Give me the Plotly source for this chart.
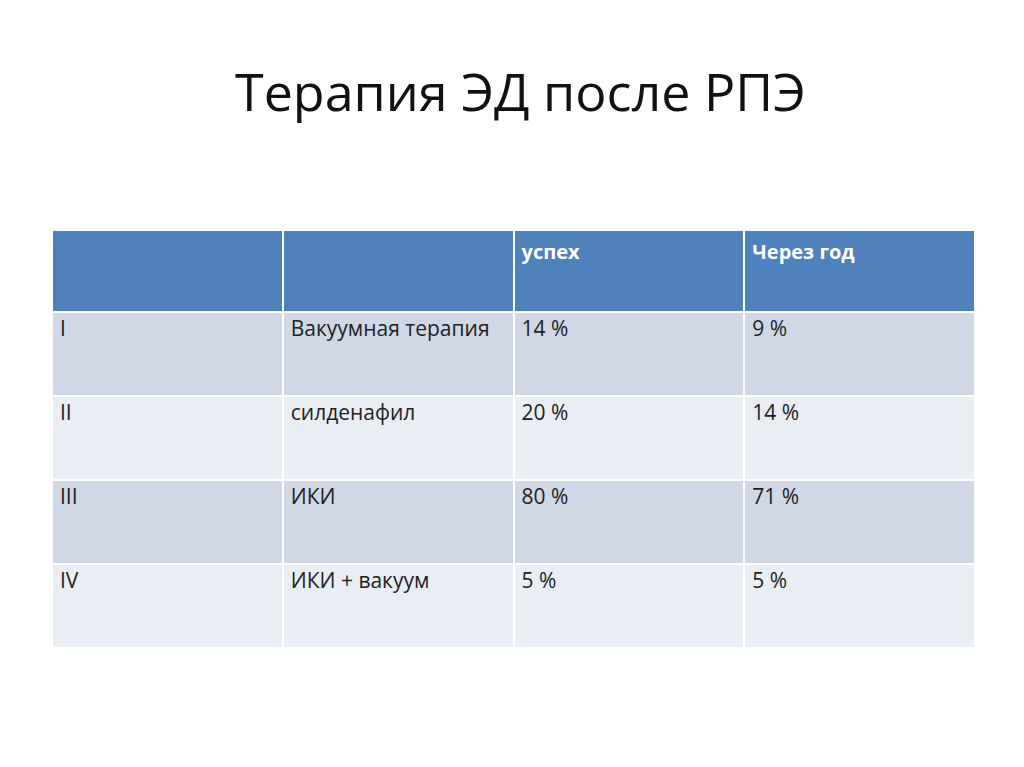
import plotly.graph_objects as go

header = ["", "", "успех", "Через год"]
col_num = ["I", "II", "III", "IV"]
col_therapy = ["Вакуумная терапия", "силденафил", "ИКИ", "ИКИ + вакуум"]
col_success = ["14 %", "20 %", "80 %", "5 %"]
col_year = ["9 %", "14 %", "71 %", "5 %"]

row_colors = ["#D0D8E8", "#E9EDF4", "#D0D8E8", "#E9EDF4"]
font = "Open Sans, Liberation Sans, sans-serif"

fig = go.Figure(go.Table(
    domain=dict(x=[44/1024, 967/1024], y=[1-644/767, 1-222/767]),
    columnwidth=[1, 1, 1, 1],
    header=dict(values=["<b>%s</b>" % h if h else "" for h in header],
                fill_color="#4F81BD", line=dict(color="white", width=2),
                align="left", height=82,
                font=dict(family=font, size=20, color="white")),
    cells=dict(values=[col_num, col_therapy, col_success, col_year],
               fill_color=[row_colors]*4, line=dict(color="white", width=2),
               align="left", height=84,
               font=dict(family=font, size=21, color="#222222")),
))
fig.add_annotation(text="Терапия ЭД после РПЭ", x=0.5, y=1-82/767, xref="paper", yref="paper",
                   xanchor="center", yanchor="middle",
                   showarrow=False, font=dict(family=font, size=52, color="#111111"))
fig.update_layout(width=1024, height=767, margin=dict(l=0, r=0, t=0, b=0),
                  paper_bgcolor="white", plot_bgcolor="white")
fig.write_html("out.html")
